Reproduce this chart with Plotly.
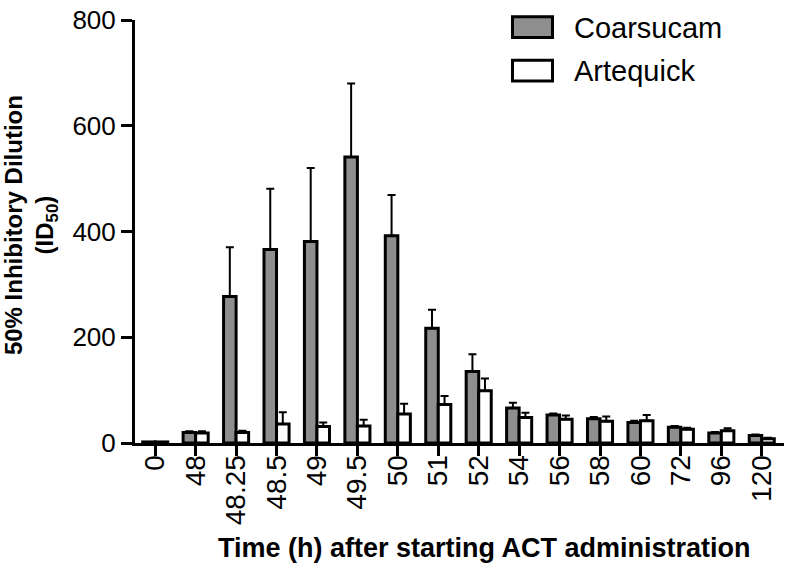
import plotly.graph_objects as go

categories = ["0", "48", "48.25", "48.5", "49", "49.5", "50", "51", "52",
              "54", "56", "58", "60", "72", "96", "120"]
coarsucam = [2, 20, 277, 366, 381, 541, 392, 217, 135, 66, 53, 46, 39, 30, 19, 14]
coarsucam_err = [0, 2, 93, 115, 139, 139, 77, 35, 33, 10, 3, 3, 3, 2, 2, 2]
artequick = [2, 19, 20, 36, 31, 32, 55, 73, 99, 48, 45, 41, 42, 26, 23, 8]
artequick_err = [0, 3, 3, 22, 8, 12, 19, 16, 23, 9, 7, 9, 11, 3, 5, 2]
series_names = ["Coarsucam", "Artequick"]
y_ticks = [0, 200, 400, 600, 800]

FONT = "Arial, Liberation Sans, Helvetica, sans-serif"
GRAY = "#8e8e8e"

fig = go.Figure()
for name, vals, errs, fill in [
    (series_names[0], coarsucam, coarsucam_err, GRAY),
    (series_names[1], artequick, artequick_err, "white"),
]:
    fig.add_trace(go.Bar(
        x=categories, y=vals, name=name,
        marker=dict(color=fill, line=dict(color="black", width=3)),
        error_y=dict(type="data", symmetric=False, array=errs,
                     arrayminus=[0] * len(errs), color="black",
                     thickness=2, width=4),
        showlegend=False,
    ))

# manual legend (large rectangles like the original)
L, R, T, B = 135, 784, 14, 443
def px(x):
    return (x - L) / (R - L)
def py(y):
    return (B - y) / (B - T)

for i, (name, fill) in enumerate(zip(series_names, [GRAY, "white"])):
    y0 = 10.8 + i * 44
    fig.add_shape(type="rect", xref="paper", yref="paper",
                  x0=px(512.5), x1=px(552.5), y0=py(y0 + 21), y1=py(y0),
                  fillcolor=fill, line=dict(color="black", width=3))
    fig.add_annotation(xref="paper", yref="paper", x=px(572), y=py(y0 + 11),
                       text=name, showarrow=False, xanchor="left", yanchor="middle",
                       font=dict(family=FONT, size=29, color="black"))

fig.add_annotation(xref="paper", yref="paper", x=px(31), y=py(222),
                   text="<b>50% Inhibitory Dilution<br>(ID<sub>50</sub>)</b>",
                   textangle=-90, showarrow=False, xanchor="center", yanchor="middle",
                   font=dict(family=FONT, size=24, color="black"))
fig.add_annotation(xref="paper", yref="paper", x=px(484), y=py(549),
                   text="<b>Time (h) after starting ACT administration</b>",
                   showarrow=False, xanchor="center", yanchor="middle",
                   font=dict(family=FONT, size=27, color="black"))

fig.update_layout(
    width=789, height=568,
    margin=dict(l=L, r=789 - R, t=T, b=568 - B, pad=0),
    paper_bgcolor="white", plot_bgcolor="white",
    barmode="group", bargap=0.38, bargroupgap=0,
    font=dict(family=FONT, color="black"),
)
fig.update_xaxes(type="category", categoryorder="array", categoryarray=categories,
                 range=[-0.5, 15.55], showline=True, linewidth=3, linecolor="black",
                 ticks="outside", ticklen=10, tickwidth=3, tickcolor="black",
                 tickangle=-90, tickfont=dict(size=28, family=FONT, color="black"),
                 ticklabelstandoff=-12,
                 showgrid=False, zeroline=False)
fig.update_yaxes(range=[0, 800], tickvals=y_ticks, showline=True, linewidth=3,
                 linecolor="black", ticks="outside", ticklen=11, tickwidth=3,
                 tickcolor="black", tickfont=dict(size=26, family=FONT, color="black"),
                 ticklabeloverflow="allow",
                 showgrid=False, zeroline=False)

fig.write_html("out.html", config={"displayModeBar": False},
               post_script="document.body.style.margin='0';document.body.style.padding='0';")
